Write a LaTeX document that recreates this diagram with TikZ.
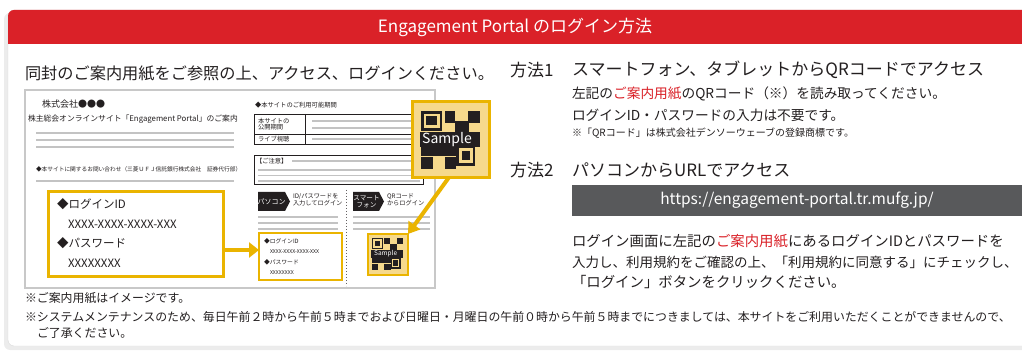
\documentclass[tikz,border=0pt]{standalone}
\usepackage{fontspec}
\setmainfont{Noto Sans CJK JP}
\usetikzlibrary{arrows.meta}
\definecolor{hdred}{RGB}{218,33,40}
\definecolor{yel}{RGB}{234,180,0}
\definecolor{ltyel}{RGB}{246,217,140}
\definecolor{dk}{RGB}{35,31,32}
\definecolor{urlgray}{RGB}{88,89,91}
\definecolor{cardgray}{RGB}{200,200,200}
\definecolor{linegray}{RGB}{195,195,195}
\definecolor{txt}{RGB}{35,31,32}
\newcommand\fs[1]{\fontsize{#1}{#1}\selectfont}
\newcommand\qrpattern[2]{%
  \fill[dk] (0,0) rectangle (1.8,1.7);
  \fill[ltyel] (0.22,0.22) rectangle (1.58,1.48);
  \fill[dk] (0.45,0.45) rectangle (1.35,1.25);
  \fill[dk] (2,0) rectangle (2.9,1);
  \fill[dk] (4,0) rectangle (5,1);
  \fill[dk] (2.9,0.9) rectangle (4.1,1.9);
  \fill[dk] (-0.1,1.8) rectangle (5,3.1);
  \fill[dk] (0,3.1) rectangle (3.1,3.9);
  \fill[dk] (3.0,3.0) rectangle (4.6,4.7);
  \fill[ltyel] (3.2,3.2) rectangle (4.4,4.5);
  \fill[dk] (3.45,3.45) rectangle (4.15,4.25);
  \fill[dk] (0,4) rectangle (1,5);
  \fill[dk] (2,4) rectangle (3.0,5);
  \node[text=white, font=\fs{#1}] (#2) at (2.2,2.45) {Sample};
}
\begin{document}
\begin{tikzpicture}[x=1pt,y=-1pt,
  every node/.style={inner sep=0pt, outer sep=0pt, text=txt},
  lbl/.style={anchor=west},
  gline/.style={draw=linegray, line width=1.5pt},
  ybox/.style={draw=yel, line width=3pt, fill=white, anchor=north west},
  qrbox/.style={draw=yel, fill=ltyel, anchor=north west},
  yarrow/.style={draw=yel, line width=4.5pt, -{Triangle[width=15pt,length=10pt]}},
  tabtext/.style={text=white, font=\fs{7}, align=center},
  mini/.style={anchor=west, font=\fs{6.3}}]
\useasboundingbox (0,0) rectangle (1022,352);
\clip (0,0) rectangle (1022,352);
% frame
\fill[gray!15, rounded corners=6pt] (4,13) rectangle (1040,350);
\filldraw[fill=white, draw=gray!30, rounded corners=6pt] (8,10) rectangle (1040,346);
\begin{scope}
  \clip (0,0) rectangle (1040,44);
  \fill[hdred, rounded corners=6pt] (8,10) rectangle (1040,70);
\end{scope}
\node[text=white, font=\fs{17}] (hdr) at (515,27) {Engagement Portal のログイン方法};
% left heading
\node[lbl, font=\fs{16.2}] (lhead) at (25,73) {同封のご案内用紙をご参照の上、アクセス、ログインください。};
% card
\draw[cardgray, line width=1.2pt] (25,90) rectangle (435,288);
\node[lbl, font=\fs{9}] (co) at (42,104) {株式会社●●●};
\node[lbl, font=\fs{7.8}] (ctitle) at (28,119) {株主総会オンラインサイト「Engagement Portal」のご案内};
\draw[gline] (36,133) -- (234,133);
\draw[gline] (36,140) -- (234,140);
\draw[gline] (36,147) -- (234,147);
\node[lbl, font=\fs{5.7}] (cinq) at (36,169) {◆本サイトに関するお問い合わせ（三菱ＵＦＪ信託銀行株式会社　証券代行部）};
\draw[gline] (36,181) -- (234,181);
% right column of card
\node[mini] (cper) at (255,105) {◆本サイトのご利用可能期間};
\draw[dk, line width=0.8pt] (254,114) rectangle (420,144);
\draw[dk, line width=0.8pt] (254,134) -- (420,134);
\draw[dk, line width=0.8pt] (305,114) -- (305,144);
\node[anchor=west, font=\fs{6.3}, align=left] (crow1) at (258,124) {本サイトの\\[-0.5pt]公開期間};
\node[mini] (crow2) at (258,139.5) {ライブ視聴};
\draw[gline, line width=1.2pt] (312,121) -- (418,121);
\draw[gline, line width=1.2pt] (312,128) -- (418,128);
\draw[gline, line width=1.2pt] (312,139) -- (418,139);
\draw[dk, line width=0.8pt] (254,155) rectangle (423,184);
\node[mini] (cnote) at (256,161) {【ご注意】};
\draw[gline, line width=1.2pt] (292,161) -- (420,161);
\draw[gline, line width=1.2pt] (258,170) -- (420,170);
\draw[gline, line width=1.2pt] (258,175.5) -- (420,175.5);
\draw[gline, line width=1.2pt] (258,181) -- (420,181);
% tabs
\fill[dk] (258,192) -- (285,192) -- (290,201.5) -- (285,211) -- (258,211) -- cycle;
\node[tabtext] (tpc) at (271.5,201.5) {パソコン};
\node[anchor=west, font=\fs{6.2}, align=left] (tpctxt) at (293,200) {ID/パスワードを\\[-0.5pt]入力してログイン};
\fill[dk] (353,192) -- (379,192) -- (384,201.5) -- (379,211) -- (353,211) -- cycle;
\node[tabtext, font=\fs{6.6}] (tsp) at (366.5,201.5) {スマート\\フォン};
\node[anchor=west, font=\fs{6.2}, align=left] (tsptxt) at (387,200) {QRコード\\[-0.5pt]からログイン};
\draw[dk!70, dotted, line width=1pt] (346,190) -- (346,286);
\draw[gline] (258,217) -- (338,217);
\draw[gline] (258,223) -- (338,223);
\draw[gline] (258,229) -- (338,229);
\draw[gline] (353,217) -- (430,217);
\draw[gline] (353,223) -- (430,223);
\draw[gline] (353,229) -- (430,229);
% small yellow box
\node[ybox, line width=2.5pt, minimum width=83pt, minimum height=47pt] (smallbox) at (259,233) {};
\node[mini, font=\fs{5.8}] (sid) at (264,241) {◆ログインID};
\node[mini, font=\fs{5.2}] (sidv) at (270,252) {XXXX-XXXX-XXXX-XXX};
\node[mini, font=\fs{5.8}] (spw) at (264,262) {◆パスワード};
\node[mini, font=\fs{5.2}] (spwv) at (270,273) {XXXXXXXX};
% small QR
\node[qrbox, line width=2.5pt, minimum width=40pt, minimum height=41pt] (smallqr) at (368,234) {};
\begin{scope}[shift={(372,238)}, x=6.2pt, y=-6.5pt]
  \qrpattern{6.5}{sqrlbl}
\end{scope}
% big yellow box
\node[ybox, minimum width=175pt, minimum height=85pt] (bigbox) at (48,192) {};
\node[lbl, font=\fs{11.5}] (bid) at (57,204) {◆ログインID};
\node[lbl, font=\fs{11.5}] (bidv) at (68,224) {XXXX-XXXX-XXXX-XXX};
\node[lbl, font=\fs{11.5}] (bpw) at (57,243) {◆パスワード};
\node[lbl, font=\fs{11.5}] (bpwv) at (68,263) {XXXXXXXX};
\draw[yarrow] (bigbox.east |- 0,250) -- (smallbox.west |- 0,250);
% big QR callout
\node[qrbox, line width=3pt, minimum width=77pt, minimum height=76pt] (bigqr) at (412,102) {};
\begin{scope}[shift={(421,111)}, x=11.8pt, y=-11.6pt]
  \qrpattern{14}{bqrlbl}
\end{scope}
\draw[yarrow, line width=4pt, -{Triangle[width=14pt,length=11pt]}] ([xshift=-2pt]bigqr.south) -- (smallqr.north east);
% right side
\node[lbl, font=\fs{17}] (m1) at (510,70) {方法1};
\node[lbl, font=\fs{17}] (m1t) at (572,70) {スマートフォン、タブレットからQRコードでアクセス};
\node[lbl, font=\fs{13.7}] (m1a) at (572,94) {左記の\textcolor{hdred}{ご案内用紙}のQRコード（※）を読み取ってください。};
\node[lbl, font=\fs{13.7}] (m1b) at (572,115) {ログインID・パスワードの入力は不要です。};
\node[lbl, font=\fs{10}] (m1c) at (572,133) {※「QRコード」は株式会社デンソーウェーブの登録商標です。};
\node[lbl, font=\fs{17}] (m2) at (510,170) {方法2};
\node[lbl, font=\fs{17}] (m2t) at (572,170) {パソコンからURLでアクセス};
\node[fill=urlgray, anchor=north west, minimum width=450pt, minimum height=31pt, text=white, font=\fs{15.5}] (url) at (572,185) {https://engagement-portal.tr.mufg.jp/};
\node[lbl, font=\fs{14.4}] (m2a) at (572,241) {ログイン画面に左記の\textcolor{hdred}{ご案内用紙}にあるログインIDとパスワードを};
\node[lbl, font=\fs{13.5}] (m2b) at (572,262) {入力し、利用規約をご確認の上、「利用規約に同意する」にチェックし、};
\node[lbl, font=\fs{14.4}] (m2c) at (572,282) {「ログイン」ボタンをクリックください。};
% notes
\node[lbl, font=\fs{11.9}] (n1) at (25,298) {※ご案内用紙はイメージです。};
\node[lbl, font=\fs{11.9}] (n2) at (25,317) {※システムメンテナンスのため、毎日午前２時から午前５時までおよび日曜日・月曜日の午前０時から午前５時までにつきましては、本サイトをご利用いただくことができませんので、};
\node[lbl, font=\fs{11.9}] (n3) at (37,333) {ご了承ください。};
\end{tikzpicture}
\end{document}
